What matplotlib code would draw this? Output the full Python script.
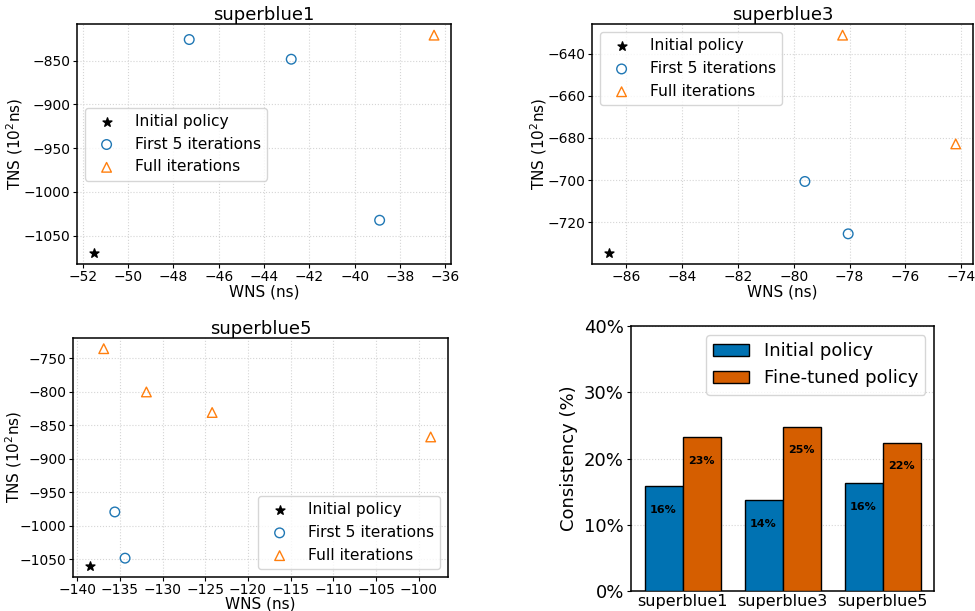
import matplotlib
matplotlib.use('Agg')
import matplotlib.pyplot as plt
import numpy as np
from matplotlib.ticker import PercentFormatter, MultipleLocator

# superblue1
sb1_init_wns = [-51.5]
sb1_init_tns = [-1070]
sb1_first_wns = [-47.3, -42.8, -38.9]
sb1_first_tns = [-826, -848.5, -1032.5]
sb1_full_wns = [-36.5]
sb1_full_tns = [-821]

# superblue3
sb3_init_wns = [-86.6]
sb3_init_tns = [-734.5]
sb3_first_wns = [-79.6, -78.05]
sb3_first_tns = [-700.6, -725.4]
sb3_full_wns = [-78.25, -74.2]
sb3_full_tns = [-631.3, -682.8]

# superblue5
sb5_init_wns = [-138.5]
sb5_init_tns = [-1060]
sb5_first_wns = [-135.6, -134.4]
sb5_first_tns = [-979.5, -1048.5]
sb5_full_wns = [-136.9, -131.9, -124.2, -98.6]
sb5_full_tns = [-735.7, -800.3, -831, -867.5]

# consistency
designs = ['superblue1', 'superblue3', 'superblue5']
initial_cons = [15.8, 13.7, 16.3]
finetuned_cons = [23.2, 24.8, 22.4]

fig = plt.figure(figsize=(9.75, 6.11), dpi=100)

def scatter_panel(rect, title, iw, it, fw, ft, uw, ut, legloc, xstep, ystep, ylab_x):
    ax = fig.add_axes(rect)
    ax.scatter(iw, it, marker='*', color='black', s=45, label='Initial policy', zorder=3)
    ax.scatter(fw, ft, marker='o', facecolors='none', edgecolors='#1f77b4', s=48,
               linewidths=1.0, label='First 5 iterations', zorder=3)
    ax.scatter(uw, ut, marker='^', facecolors='none', edgecolors='#ff7f0e', s=48,
               linewidths=1.0, label='Full iterations', zorder=3)
    ax.xaxis.set_major_locator(MultipleLocator(xstep))
    ax.yaxis.set_major_locator(MultipleLocator(ystep))
    ax.set_title(title, fontsize=13, pad=2)
    ax.set_xlabel('WNS (ns)', fontsize=11, labelpad=0)
    ax.set_ylabel('TNS (10$^2$ns)', fontsize=11)
    ax.yaxis.set_label_coords(ylab_x, 0.5)
    ax.tick_params(labelsize=10, length=3, pad=1.5)
    ax.grid(True, linestyle=':', color='#d5d5d5', linewidth=0.8)
    ax.set_axisbelow(True)
    for sp in ax.spines.values():
        sp.set_linewidth(1.1)
    ax.legend(loc=legloc, fontsize=11.2, framealpha=0.8)
    return ax

ax1 = scatter_panel([0.079, 0.568, 0.3836, 0.3923], 'superblue1',
                    sb1_init_wns, sb1_init_tns, sb1_first_wns, sb1_first_tns,
                    sb1_full_wns, sb1_full_tns, 'center left', 2, 50, -0.139)
ax2 = scatter_panel([0.6072, 0.568, 0.3908, 0.3923], 'superblue3',
                    sb3_init_wns, sb3_init_tns, sb3_first_wns, sb3_first_tns,
                    sb3_full_wns, sb3_full_tns, 'upper left', 2, 20, -0.113)
ax3 = scatter_panel([0.0749, 0.0561, 0.3843, 0.391], 'superblue5',
                    sb5_init_wns, sb5_init_tns, sb5_first_wns, sb5_first_tns,
                    sb5_full_wns, sb5_full_tns, 'lower right', 5, 50, -0.131)

# bar chart
ax4 = fig.add_axes([0.6469, 0.0327, 0.3114, 0.4337])
x = np.arange(len(designs))
w = 0.38
b1 = ax4.bar(x - w / 2, initial_cons, w, color='#0072B2', edgecolor='black',
             linewidth=1.0, label='Initial policy', zorder=3)
b2 = ax4.bar(x + w / 2, finetuned_cons, w, color='#D55E00', edgecolor='black',
             linewidth=1.0, label='Fine-tuned policy', zorder=3)
for bars in (b1, b2):
    for r in bars:
        h = r.get_height()
        ax4.annotate(f'{round(h):d}%', (r.get_x() + r.get_width() / 2, h),
                     xytext=(0, -17), textcoords='offset points',
                     ha='center', va='center', fontsize=8, fontweight='bold')
ax4.set_ylim(0, 40)
ax4.set_yticks([0, 10, 20, 30, 40])
ax4.yaxis.set_major_formatter(PercentFormatter(decimals=0))
ax4.set_xticks(x)
ax4.set_xticklabels(designs)
ax4.tick_params(axis='y', labelsize=13, length=3, pad=2)
ax4.tick_params(axis='x', labelsize=11.5, length=0, pad=2)
ax4.set_ylabel('Consistency (%)', fontsize=13, labelpad=4)
ax4.grid(True, axis='y', linestyle=':', color='#d5d5d5', linewidth=0.8)
ax4.set_axisbelow(True)
for sp in ax4.spines.values():
    sp.set_linewidth(1.1)
ax4.legend(loc='upper right', fontsize=13, framealpha=0.8)

fig.savefig('out.png', dpi=100)
